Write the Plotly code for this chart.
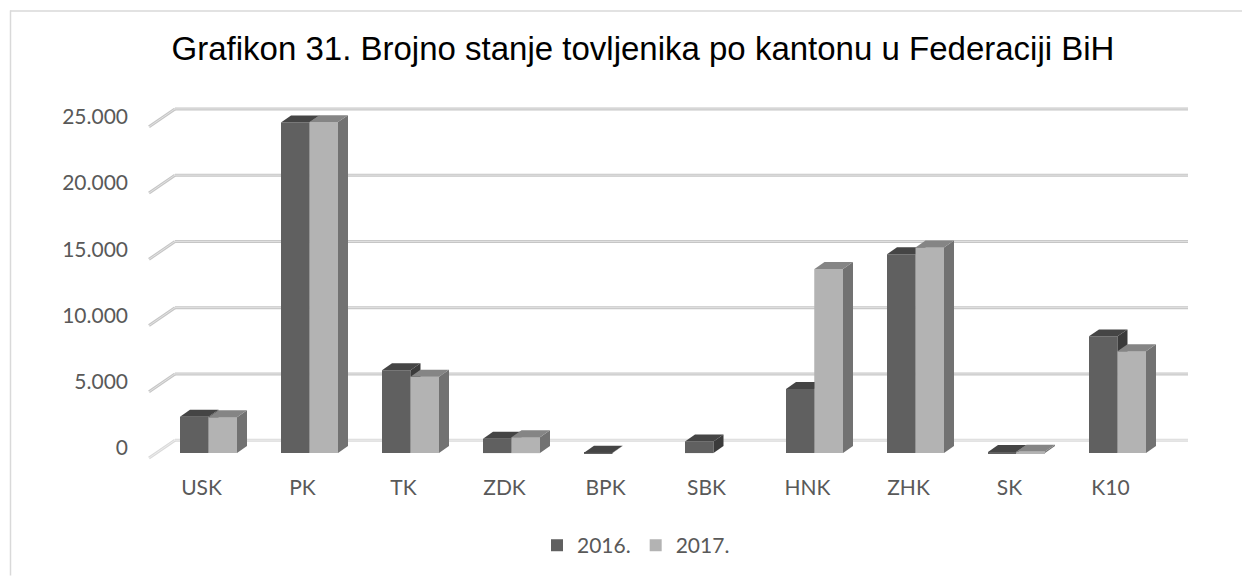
import plotly.graph_objects as go

# ---------------- data ----------------
categories = ["USK", "PK", "TK", "ZDK", "BPK", "SBK", "HNK", "ZHK", "SK", "K10"]
series_names = ["2016.", "2017."]
values_2016 = [2750, 24950, 6255, 1076, 30, 876, 4830, 15014, 80, 8808]
values_2017 = [2700, 24980, 5755, 1201, 0, 0, 13888, 15515, 110, 7682]
y_tick_values = [0, 5000, 10000, 15000, 20000, 25000]
y_tick_labels = ["0", "5.000", "10.000", "15.000", "20.000", "25.000"]
title_text = "Grafikon 31. Brojno stanje tovljenika po kantonu u Federaciji BiH"

# ---------------- geometry (pixels) ----------------
W, H = 1242, 578
L, R, T, B = 140, 1200, 95, 470
cat0_px, cat_step = 208.5, 101.0
base_px, ppu = 455.0, 0.013321

xmin = (L - cat0_px) / cat_step
xmax = (R - cat0_px) / cat_step
ymin = -(B - base_px) / ppu
ymax = (base_px - T) / ppu


def px2x(px):
    return (px - cat0_px) / cat_step


def dpx_y(px):
    return px / ppu


def px2paper_x(px):
    return (px - L) / (R - L)


def px2paper_y(py):
    return (B - py) / (B - T)


bar_w = 28.5 / cat_step
depth_dx = 10.0 / cat_step
depth_dy = dpx_y(7.0)

dark_front, dark_top, dark_side = "#606060", "#454545", "#3b3b3b"
light_front, light_top, light_side = "#b3b3b3", "#858585", "#727272"

xs = list(range(len(categories)))

fig = go.Figure()
fig.add_trace(go.Bar(x=xs, y=values_2016, name=series_names[0],
                     marker=dict(color=dark_front, line=dict(width=0))))
fig.add_trace(go.Bar(x=xs, y=values_2017, name=series_names[1],
                     marker=dict(color=light_front, line=dict(width=0))))

shapes = []

# back-plane gridlines with diagonal connectors
back_off = dpx_y(13)
front_off = dpx_y(-5)
for v in y_tick_values:
    col_out = "#dadada" if v == 0 else "#c6c6c6"
    col_in = "#ececec" if v == 0 else "#e2e2e2"
    for wdt, col in ((3, col_out), (1, col_in)):
        shapes.append(dict(type="line", xref="x", yref="y", layer="below",
                           x0=px2x(175), x1=px2x(1188), y0=v + back_off, y1=v + back_off,
                           line=dict(color=col, width=wdt)))
        shapes.append(dict(type="line", xref="x", yref="y", layer="below",
                           x0=px2x(149), x1=px2x(175), y0=v + front_off, y1=v + back_off,
                           line=dict(color=col, width=wdt)))


def poly(pts, color):
    path = "M " + " L ".join(f"{x},{y}" for x, y in pts) + " Z"
    return dict(type="path", xref="x", yref="y", layer="above", path=path,
                fillcolor=color, line=dict(width=0))


def box_faces(x0, x1, v, front_col, top_col, side_col, draw_front):
    out = []
    if draw_front:
        out.append(poly([(x0, 0), (x1, 0), (x1, v), (x0, v)], front_col))
    out.append(poly([(x1, 0), (x1 + depth_dx, depth_dy), (x1 + depth_dx, v + depth_dy), (x1, v)], side_col))
    out.append(poly([(x0, v), (x1, v), (x1 + depth_dx, v + depth_dy), (x0 + depth_dx, v + depth_dy)], top_col))
    return out


for i, x in enumerate(xs):
    v1, v2 = values_2016[i], values_2017[i]
    if v1 > 0:
        shapes += box_faces(x - bar_w, x, v1, dark_front, dark_top, dark_side, False)
    if v2 > 0:
        shapes += box_faces(x, x + bar_w, v2, light_front, light_top, light_side, True)

# chart border (top and left)
shapes.append(dict(type="line", xref="paper", yref="paper",
                   x0=px2paper_x(10), x1=px2paper_x(1242), y0=px2paper_y(10.5), y1=px2paper_y(10.5),
                   line=dict(color="#d9d9d9", width=1.5)))
shapes.append(dict(type="line", xref="paper", yref="paper",
                   x0=px2paper_x(10.5), x1=px2paper_x(10.5), y0=px2paper_y(10), y1=px2paper_y(578),
                   line=dict(color="#d9d9d9", width=1.5)))

axis_font = dict(family="Lato", size=21, color="#595959")

fig.update_layout(
    width=W, height=H,
    margin=dict(l=L, r=W - R, t=T, b=H - B, pad=0),
    paper_bgcolor="white", plot_bgcolor="white",
    barmode="group", bargap=1 - 2 * bar_w, bargroupgap=0,
    title=dict(text=title_text, x=643 / W, xref="container", xanchor="center",
               y=1 - 48 / H, yref="container", yanchor="middle",
               font=dict(family="Liberation Sans, Arial", size=33, color="#000000")),
    xaxis=dict(range=[xmin, xmax], tickvals=xs, ticktext=categories,
               showgrid=False, zeroline=False, showline=False, ticks="",
               tickfont=axis_font, ticklabelshift=-7, ticklabelstandoff=5,
               automargin=False),
    yaxis=dict(range=[ymin, ymax], tickvals=y_tick_values, ticktext=y_tick_labels,
               showgrid=False, zeroline=False, showline=False, ticks="",
               tickfont=axis_font, ticklabelshift=-5, ticklabelstandoff=11,
               automargin=False),
    legend=dict(orientation="h", x=px2paper_x(636), xanchor="center",
                y=px2paper_y(548), yanchor="middle", font=axis_font,
                bgcolor="rgba(0,0,0,0)"),
    shapes=shapes,
    showlegend=True,
)

fig.write_html("out.html",
               config={"displayModeBar": False},
               post_script="document.body.style.margin='0';document.body.style.padding='0';"
                           "document.documentElement.style.overflow='hidden';")
